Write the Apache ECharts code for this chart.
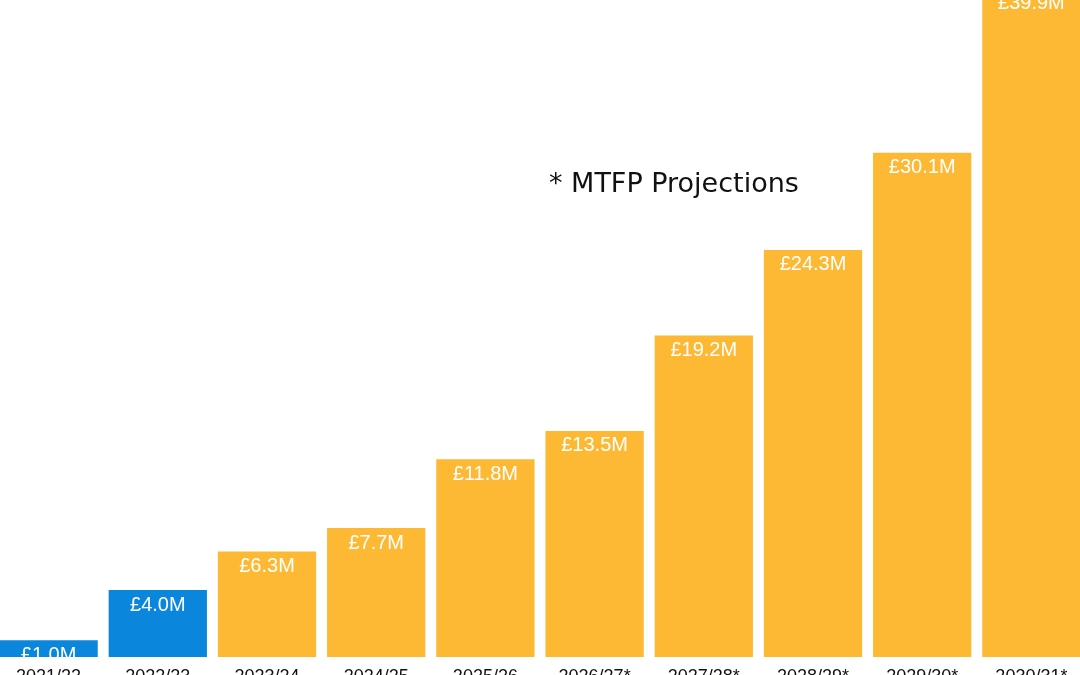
<!DOCTYPE html>
<html>
<head>
<meta charset="utf-8">
<script src="https://cdn.jsdelivr.net/npm/echarts@6/dist/echarts.min.js"></script>
<style>
  html, body { margin: 0; padding: 0; background: #fff; }
  #chart { width: 1080px; height: 675px; }
</style>
</head>
<body>
<div id="chart"></div>
<script>
const years = ['2021/22', '2022/23', '2023/24', '2024/25', '2025/26',
  '2026/27*', '2027/28*', '2028/29*', '2029/30*', '2030/31*']
const amounts = [1.0, 4.0, 6.3, 7.7, 11.8, 13.5, 19.2, 24.3, 30.1, 39.9]
const isActual = [true, true, false, false, false, false, false, false, false, false]

const BLUE = '#0b86dd'
const ORANGE = '#fdb933'

const chart = echarts.init(document.getElementById('chart'))

chart.setOption({
  animation: false,
  grid: { left: -6, width: 1092, top: -13, height: 670, outerBoundsMode: 'none', containLabel: false },
  xAxis: {
    type: 'category',
    data: years,
    axisLine: { show: false },
    axisTick: { show: false },
    axisLabel: {
      margin: 11,
      color: '#111',
      fontSize: 18,
      fontFamily: 'Liberation Sans'
    }
  },
  yAxis: {
    type: 'value',
    min: 0,
    max: 40,
    show: false,
    splitLine: { show: false }
  },
  series: [{
    type: 'bar',
    barCategoryGap: '10%',
    data: amounts.map((v, i) => ({
      value: v,
      itemStyle: { color: isActual[i] ? BLUE : ORANGE }
    })),
    label: {
      show: true,
      position: 'insideTop',
      distance: 5,
      color: '#fff',
      fontSize: 20,
      fontFamily: 'Liberation Sans',
      formatter: p => '£' + p.value.toFixed(1) + 'M'
    }
  }],
  graphic: [{
    type: 'text',
    left: 549,
    top: 171,
    style: {
      text: '* MTFP Projections',
      fontSize: 27,
      fontFamily: 'DejaVu Sans',
      fill: '#111'
    }
  }]
})
</script>
</body>
</html>
